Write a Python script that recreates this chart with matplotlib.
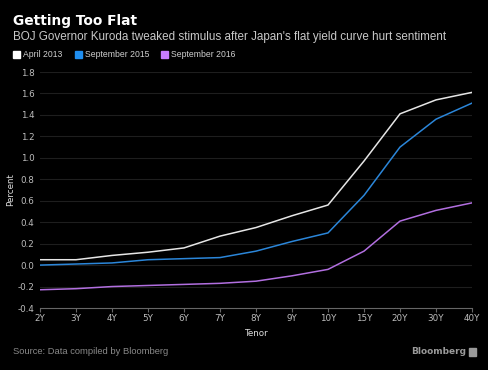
import matplotlib
matplotlib.use("Agg")
import matplotlib.pyplot as plt
from matplotlib.patches import Rectangle

tenors = ["2Y", "3Y", "4Y", "5Y", "6Y", "7Y", "8Y", "9Y", "10Y", "15Y", "20Y", "30Y", "40Y"]
april_2013 = [0.05, 0.05, 0.09, 0.12, 0.16, 0.27, 0.35, 0.46, 0.56, 0.97, 1.41, 1.54, 1.61]
sept_2015 = [0.00, 0.01, 0.02, 0.05, 0.06, 0.07, 0.13, 0.22, 0.30, 0.65, 1.10, 1.36, 1.51]
sept_2016 = [-0.23, -0.22, -0.20, -0.19, -0.18, -0.17, -0.15, -0.10, -0.04, 0.13, 0.41, 0.51, 0.58]
yticks = [-0.4, -0.2, 0.0, 0.2, 0.4, 0.6, 0.8, 1.0, 1.2, 1.4, 1.6, 1.8]

series = [
    ("April 2013", april_2013, "#e6e6e6"),
    ("September 2015", sept_2015, "#2b86d9"),
    ("September 2016", sept_2016, "#b26fe0"),
]
legend_sq = ["#ffffff", "#1f8ef0", "#c77dff"]

W, H = 488, 370
fig = plt.figure(figsize=(W / 100, H / 100), dpi=100, facecolor="black")
ax = fig.add_axes([40 / W, 1 - 308 / H, (472 - 40) / W, (308 - 72) / H])
ax.set_facecolor("black")

x = list(range(len(tenors)))
for name, vals, col in series:
    ax.plot(x, vals, color=col, lw=1.1, solid_joinstyle="round")

ax.set_xlim(0, len(tenors) - 1)
ax.set_ylim(-0.4, 1.8)
ax.set_yticks(yticks)
ax.set_yticklabels([f"{v:.1f}" for v in yticks], color="#bdbdbd", fontsize=6.3)
ax.set_xticks(x)
ax.set_xticklabels(tenors, color="#bdbdbd", fontsize=6.3)
for yv in yticks[1:]:
    ax.axhline(yv, color="#1e1e1e", lw=0.8, zorder=0)
for s in ["top", "right", "left"]:
    ax.spines[s].set_visible(False)
ax.spines["bottom"].set_color("#666666")
ax.spines["bottom"].set_linewidth(0.8)
ax.tick_params(axis="y", length=0, pad=4)
ax.tick_params(axis="x", length=3, color="#666666", pad=1)
ax.set_xlabel("Tenor", color="#dddddd", fontsize=6.3, labelpad=5)
ax.set_ylabel("Percent", color="#dddddd", fontsize=6.3, labelpad=2)

fig.text(13 / W, 1 - 21 / H, "Getting Too Flat", color="white", fontsize=9.9,
         fontweight="bold", va="center", ha="left")
fig.text(13 / W, 1 - 37 / H,
         "BOJ Governor Kuroda tweaked stimulus after Japan's flat yield curve hurt sentiment",
         color="#c8c8c8", fontsize=8.4, va="center", ha="left", family="Liberation Sans")

lx = [13, 75, 161]
for (name, vals, col), sq, px in zip(series, legend_sq, lx):
    fig.patches.append(Rectangle((px / W, 1 - 58 / H), 7 / W, 7 / H,
                                 transform=fig.transFigure, color=sq))
    fig.text((px + 10) / W, 1 - 54.5 / H, name, color="#d0d0d0", fontsize=6.2,
             va="center", ha="left", family="Liberation Sans")

fig.text(13 / W, 1 - 352 / H, "Source: Data compiled by Bloomberg", color="#8a8a8a",
         fontsize=6.75, va="center", ha="left", family="Liberation Sans")
fig.text(466 / W, 1 - 352 / H, "Bloomberg", color="#9a9a9a", fontsize=6.5,
         fontweight="bold", va="center", ha="right")
fig.patches.append(Rectangle((469 / W, 1 - 356 / H), 7 / W, 8 / H,
                             transform=fig.transFigure, color="#9a9a9a"))

fig.savefig("out.png", dpi=100, facecolor="black")
